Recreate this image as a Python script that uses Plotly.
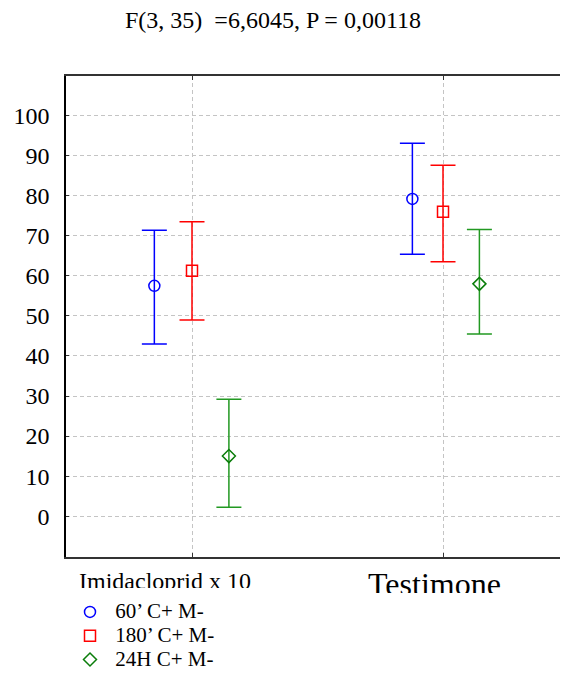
import plotly.graph_objects as go

# ---- data ----
categories = ["Imidacloprid x 10", "Testimone"]
series_names = ["60’ C+ M-", "180’ C+ M-", "24H C+ M-"]

mean_60 = [57.5, 79.2]
upper_60 = [71.4, 93.1]
lower_60 = [43.0, 65.4]

mean_180 = [61.3, 76.0]
upper_180 = [73.5, 87.6]
lower_180 = [49.0, 63.5]

mean_24h = [15.0, 58.0]
upper_24h = [29.2, 71.6]
lower_24h = [2.2, 45.5]

y_ticks = [0, 10, 20, 30, 40, 50, 60, 70, 80, 90, 100]

FONT = "Liberation Serif, Times New Roman, serif"
W, H = 568, 677
# the page body adds an 8px margin, so everything is placed 8px up/left
OFF = 8

# series style: (means, upper, lower, offset per category, marker, marker colour, bar colour, size)
series = [
    (mean_60, upper_60, lower_60, [-0.150, -0.122], "circle-open", "#0000ff", "#0000ff", 11),
    (mean_180, upper_180, lower_180, [0.0, 0.0], "square-open", "#ff0000", "#ff0000", 11),
    (mean_24h, upper_24h, lower_24h, [0.147, 0.145], "diamond-open", "#0a7d0a", "#229922", 10),
]

fig = go.Figure()
for name, (m, up, lo, off, sym, mcol, bcol, size) in zip(series_names, series):
    xs = [i + o for i, o in enumerate(off)]
    fig.add_trace(go.Scatter(
        x=xs, y=m, mode="markers",
        # legend font is kept small so the rows sit close, the text itself is larger
        name=f"<span style='font-size:21px'>\u00a0{name}</span>",
        marker=dict(symbol=sym, size=size, color=mcol, line=dict(width=1.5, color=mcol)),
        error_y=dict(
            type="data", symmetric=False,
            array=[u - v for u, v in zip(up, m)],
            arrayminus=[v - l for v, l in zip(m, lo)],
            color=bcol, thickness=1.5, width=12.5,
        ),
    ))

x_range = [-0.502, 1.494]
grid = dict(showgrid=True, gridcolor="#c4c4c4", gridwidth=1, griddash="4px,3px")

# plot frame in reference pixels: left 66, top 76, right 567, bottom 557
left, top, right, bottom = 66 - OFF, 76 - OFF, 567 - OFF, 557 - OFF
ph = bottom - top

fig.update_layout(
    width=W, height=H,
    margin=dict(l=left, r=W - right, t=top, b=H - bottom, autoexpand=False),
    paper_bgcolor="white", plot_bgcolor="white",
    font=dict(family=FONT, color="black"),
    title=dict(text="F(3, 35)\u00a0 =6,6045, P = 0,00118", x=(274 - OFF - 1) / W, xanchor="center",
               xref="container", y=1 - (20 - OFF) / H, yanchor="middle", yref="container",
               font=dict(size=24, family=FONT)),
    xaxis=dict(range=x_range, tickvals=[0, 1], showticklabels=False, zeroline=False,
               showline=True, linecolor="#333", linewidth=2, mirror="ticks",
               ticks="inside", ticklen=4, tickcolor="#333", **grid),
    xaxis2=dict(overlaying="x", anchor="y", side="bottom", range=x_range,
                tickvals=[-0.1075], ticktext=[categories[0]], showgrid=False, zeroline=False,
                showline=False, ticks="", tickfont=dict(size=24, family=FONT),
                ticklabelstandoff=7),
    xaxis3=dict(overlaying="x", anchor="y", side="bottom", range=x_range,
                tickvals=[0.966], ticktext=[categories[1]], showgrid=False, zeroline=False,
                showline=False, ticks="", tickfont=dict(size=32, family=FONT),
                ticklabelstandoff=5),
    yaxis=dict(range=[-10.2, 109.9], tickvals=y_ticks, zeroline=False,
               showline=True, linecolor="black", linewidth=1.5,
               ticks="inside", ticklen=3, tickcolor="#333",
               tickfont=dict(size=24, family=FONT), ticklabelstandoff=10, **grid),
    legend=dict(x=62 / W, xref="container", xanchor="left",
                y=1 - 587 / H, yref="container", yanchor="top",
                font=dict(size=16, family=FONT), bgcolor="rgba(0,0,0,0)",
                tracegroupgap=0),
    shapes=[
        # faint right frame
        dict(type="line", xref="paper", yref="paper", x0=1, x1=1, y0=0, y1=1,
             line=dict(color="#bbbbbb", width=1)),
        # the category labels are cut off at the bottom in the original
        dict(type="rect", xref="paper", yref="paper", layer="above",
             x0=0.0, x1=0.4, y0=-(588 - 557) / ph, y1=-(602 - 557) / ph,
             fillcolor="white", line=dict(width=0)),
        dict(type="rect", xref="paper", yref="paper", layer="above",
             x0=0.55, x1=0.95, y0=-(593 - 557) / ph, y1=-(602 - 557) / ph,
             fillcolor="white", line=dict(width=0)),
    ],
)

# empty traces so the label-only axes are drawn
fig.add_trace(go.Scatter(x=[None], y=[None], xaxis="x2", showlegend=False, hoverinfo="skip"))
fig.add_trace(go.Scatter(x=[None], y=[None], xaxis="x3", showlegend=False, hoverinfo="skip"))

fig.write_html("out.html")
